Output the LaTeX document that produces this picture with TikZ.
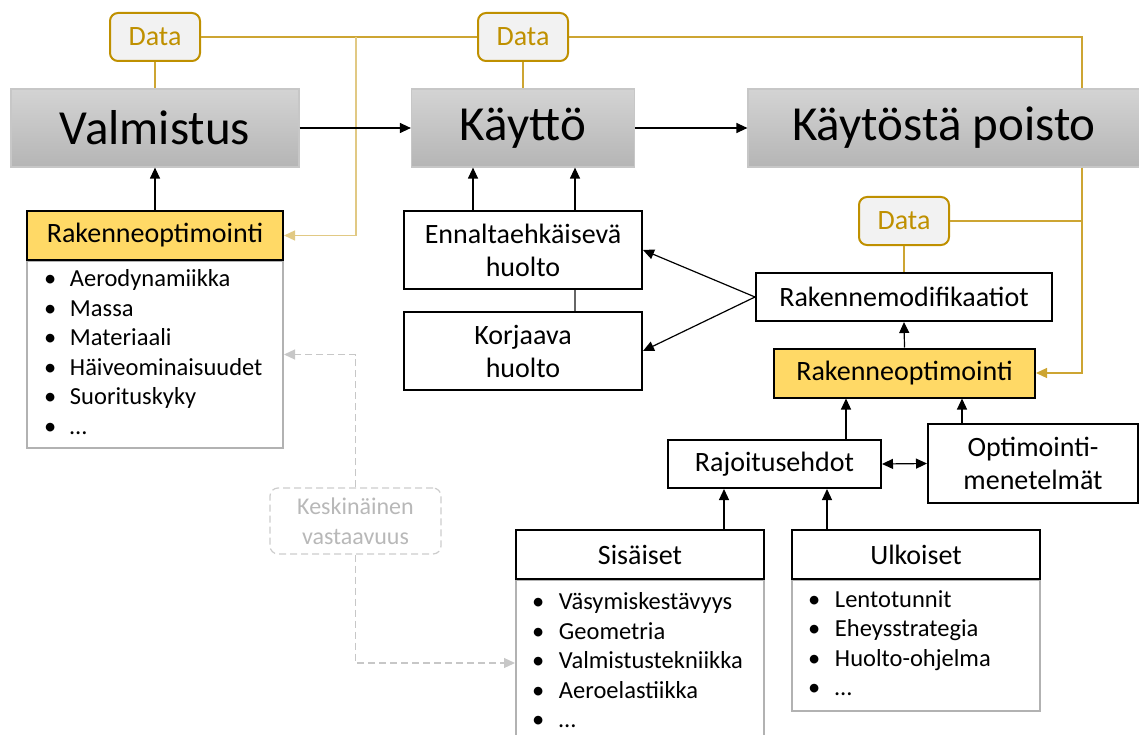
\documentclass[tikz,border=0pt]{standalone}
\usepackage{fontspec}
\setmainfont{Carlito}
\usetikzlibrary{arrows.meta,positioning}
\definecolor{gold}{RGB}{191,144,0}
\definecolor{goldline}{RGB}{205,165,50}
\definecolor{optyellow}{RGB}{255,217,102}
\definecolor{datafill}{RGB}{242,242,242}

\begin{document}
\begin{tikzpicture}[x=1pt,y=-1pt,
  >={Triangle[length=11pt,width=10pt]},
  phase/.style={rectangle,draw=black!22,line width=1.2pt,top color=black!17,bottom color=black!29,
    minimum height=78pt,font=\fontsize{49}{60}\selectfont},
  data/.style={rectangle,rounded corners=8pt,draw=gold,line width=2pt,fill=datafill,text=gold,
    minimum width=90pt,minimum height=48pt,font=\fontsize{28}{32}\selectfont},
  optbox/.style={rectangle,draw=black,line width=2pt,fill=optyellow,minimum height=49pt,
    font=\fontsize{28}{32}\selectfont},
  plain/.style={rectangle,draw=black,line width=2pt,fill=white,align=center,
    font=\fontsize{28}{33}\selectfont},
  listbox/.style={rectangle,draw=black!30,line width=2pt,fill=white,inner ysep=0pt,
    font=\fontsize{24.5}{29.5}\selectfont},
  match/.style={rectangle,rounded corners=8pt,draw=black!20,dash pattern=on 7pt off 4pt,line width=1.2pt,
    text=black!28,align=center,minimum width=171pt,minimum height=66pt,font=\fontsize{24}{30}\selectfont},
  arr/.style={->,line width=1.2pt},
  goldarr/.style={line width=1.3pt,draw=goldline,->},
  dasharr/.style={->,dash pattern=on 7pt off 4pt,line width=1.2pt,draw=black!22}]
\useasboundingbox (0,0) rectangle (1139,735);

% phases
\node[phase,minimum width=288pt] (valm) at (155,128) {Valmistus};
\node[phase,minimum width=223pt] (kay) at (523,128) {Käyttö};
\node[phase,minimum width=392pt] (poisto) at (944,128) {Käytöstä poisto};

% data
\node[data] (data1) at (155,37) {Data};
\node[data] (data2) at (523,37) {Data};
\node[data] (data3) at (904,221) {Data};

% left side
\node[listbox,anchor=north,minimum width=256pt,minimum height=187pt,inner xsep=17pt]
  (listL) at (155,260) {\begin{tabular}{@{}p{26pt}@{}p{196pt}@{}}
           • & Aerodynamiikka\\
           • & Massa\\
           • & Materiaali\\
           • & Häiveominaisuudet\\
           • & Suorituskyky\\
           • & …
           \end{tabular}};
\node[optbox,minimum width=256pt,above=-1pt of listL] (rakL) {Rakenneoptimointi};

% maintenance
\node[plain,minimum width=238pt,minimum height=78pt] (enn) at (523,250) {Ennaltaehkäisevä\\huolto};
\node[plain,minimum width=238pt,minimum height=78pt,below=21pt of enn] (kor) {Korjaava\\huolto};

% right side
\node[plain,minimum width=296pt,minimum height=48pt] (rmod) at (904,297) {Rakennemodifikaatiot};
\node[optbox,minimum width=261pt] (rakR) at (904.5,373) {Rakenneoptimointi};
\node[plain,minimum width=213pt,minimum height=48pt] (raj) at (774.5,464) {Rajoitusehdot};
\node[plain,minimum width=210pt,minimum height=79pt] (opt) at (1033,463.5) {Optimointi-\\menetelmät};

% constraints
\node[listbox,minimum width=248pt,minimum height=166pt,inner xsep=16pt,anchor=north]
  (listS) at (640,579) {\begin{tabular}{@{}p{27pt}@{}p{189pt}@{}}
           • & Väsymiskestävyys\\
           • & Geometria\\
           • & Valmistustekniikka\\
           • & Aeroelastiikka\\
           • & …
           \end{tabular}};
\node[listbox,minimum width=248pt,minimum height=131pt,inner xsep=16pt,anchor=north]
  (listU) at (916,579) {\begin{tabular}{@{}p{27pt}@{}p{189pt}@{}}
           • & Lentotunnit\\
           • & Eheysstrategia\\
           • & Huolto-ohjelma\\
           • & …
           \end{tabular}};
\node[plain,minimum width=248pt,minimum height=49pt,above=-1pt of listS] (sis) {Sisäiset};
\node[plain,minimum width=248pt,minimum height=49pt,above=-1pt of listU] (ulk) {Ulkoiset};

\node[match] (kesk) at (355.5,521) {Keskinäinen\\vastaavuus};

% gold data lines
\coordinate (gl) at (356,37);
\coordinate (gr) at (1082,37);
\draw[goldline,line width=1.3pt] (data1.south) -- (valm.north);
\draw[goldline,line width=1.3pt] (data2.south) -- (kay.north);
\draw[goldline,line width=1.3pt] (data3.south) -- (rmod.north);
\draw[goldline,line width=1.3pt] (data1.east) -- (data2.west);
\draw[goldline,line width=1.3pt] (data2.east) -- (gr) -- (gr |- poisto.north);
\draw[goldline,line width=1.3pt] (data3.east) -- (data3.east -| gr);
\draw[goldarr] (gr |- poisto.south) |- (rakR.east);
\draw[goldarr,draw=goldline!60] (gl) |- (rakL.east);

% flow arrows
\draw[arr] (valm.east) -- (kay.west);
\draw[arr] (kay.east) -- (poisto.west);
\draw[arr] (rakL.north) -- (valm.south);
\draw[arr] (enn.north -| 473,0) -- (kay.south -| 473,0);
\draw[arr] (enn.north -| 575,0) -- (kay.south -| 575,0);
\draw[line width=1.2pt,black!60] (enn.south -| 575,0) -- (kor.north -| 575,0);
\draw[arr] (rmod.west) -- (enn.east);
\draw[arr] (rmod.west) -- (kor.east);
\draw[arr] (rakR.north) -- (rmod.south);
\draw[arr] (raj.north -| 846,0) -- (rakR.south -| 846,0);
\draw[arr] (opt.north -| 962,0) -- (rakR.south -| 962,0);
\draw[arr,<->] (raj.east) -- (opt.west);
\draw[arr] (sis.north -| 724,0) -- (raj.south -| 724,0);
\draw[arr] (ulk.north -| 827,0) -- (raj.south -| 827,0);

% correspondence
\draw[dasharr] (kesk.north) |- (listL.east);
\draw[dasharr] (kesk.south) |- (listS.west);
\end{tikzpicture}
\end{document}
